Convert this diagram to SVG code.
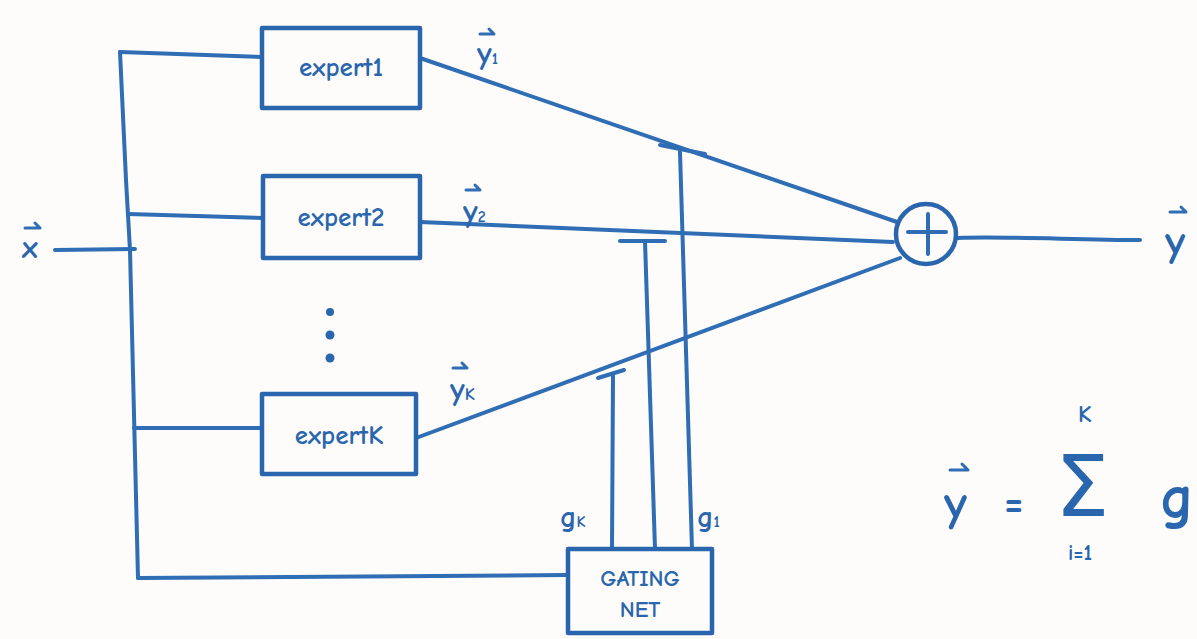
<svg xmlns="http://www.w3.org/2000/svg" width="1197" height="639" viewBox="0 0 1197 639">
<style>
.ln{fill:none;stroke:#2f6db5;stroke-width:4;stroke-linecap:round;stroke-linejoin:round}
.ar{fill:none;stroke:#2f6db5;stroke-width:3;stroke-linecap:round;stroke-linejoin:round}
.bx{fill:none;stroke:#2a66ad;stroke-width:4.5;stroke-linejoin:round}
.t{font-family:"Comic Neue","Liberation Sans",sans-serif;fill:#2a66ad;font-weight:bold}
.lbl{font-family:"Comic Neue","Liberation Sans",sans-serif;fill:#2a66ad;font-weight:bold}
.sig{font-family:"DejaVu Sans",sans-serif;fill:#2a66ad}
.dot{fill:#2a66ad}
</style>
<rect width="1197" height="639" fill="#fdfcfa"/>
<g id="connectors">
<path class="ln" d="M55,250 L135,249"/>
<path class="ln" d="M120,52 L126,180 L130,250 L138,578"/>
<path class="ln" d="M120,52 L262,57"/>
<path class="ln" d="M128,214 L263,218"/>
<path class="ln" d="M134,428 L262,428"/>
<path class="ln" d="M138,578 L568,575"/>
<path class="ln" d="M420,58 L897,222"/>
<path class="ln" d="M420,222 L893,242"/>
<path class="ln" d="M416,438 L900,258"/>
<path class="ln" d="M958,238 C1000,236 1080,240 1140,240"/>
<path class="ln" d="M692,549 L680,152"/>
<path class="ln" d="M660,145 L705,154" stroke-width="6"/>
<path class="ln" d="M655,549 L645,241"/>
<path class="ln" d="M620,241 L665,241" stroke-width="5"/>
<path class="ln" d="M612,549 L613,376"/>
<path class="ln" d="M598,378 L624,370" stroke-width="5"/>
</g>
<g id="input">
<text class="lbl" x="22" y="258" style="font-size:32px">x</text>
<path class="ar" d="M25,228 L40,228 L35,223"/>
</g>
<g id="expert1">
<rect class="bx" x="262" y="28" width="158" height="80"/>
<text class="t" x="341" y="76" style="font-size:27px" text-anchor="middle">expert1</text>
</g>
<g id="expert2">
<rect class="bx" x="263" y="176" width="157" height="82"/>
<text class="t" x="341" y="226" style="font-size:27px" text-anchor="middle">expert2</text>
</g>
<g id="dots">
<circle class="dot" cx="330" cy="312" r="4"/>
<circle class="dot" cx="330" cy="335" r="4.5"/>
<circle class="dot" cx="330" cy="358" r="4.5"/>
</g>
<g id="expertK">
<rect class="bx" x="262" y="394" width="154" height="80"/>
<text class="t" x="339" y="444" style="font-size:27px" text-anchor="middle">expertK</text>
</g>
<g id="gating">
<rect class="bx" x="568" y="549" width="144" height="84"/>
<text class="t" x="640" y="586" style="font-size:23px" text-anchor="middle">GATING</text>
<text class="t" x="640" y="617" style="font-size:23px" text-anchor="middle">NET</text>
</g>
<g id="sum">
<circle class="bx" cx="926" cy="234" r="30"/>
<path class="ln" d="M908,232 L946,232 M928,214 L928,254"/>
</g>
<g id="labels">
<text class="lbl" x="477" y="64" style="font-size:32px">y<tspan style="font-size:16px">1</tspan></text>
<path class="ar" d="M480,34 L494,34 L489,29"/>
<text class="lbl" x="463" y="222" style="font-size:32px">y<tspan style="font-size:16px">2</tspan></text>
<path class="ar" d="M466,190 L480,190 L475,185"/>
<text class="lbl" x="450" y="400" style="font-size:32px">y<tspan style="font-size:18px">K</tspan></text>
<path class="ar" d="M453,368 L467,368 L462,363"/>
<text class="lbl" x="560" y="527" style="font-size:30px">g<tspan style="font-size:16px">K</tspan></text>
<text class="lbl" x="697" y="527" style="font-size:30px">g<tspan style="font-size:16px">1</tspan></text>
<text class="lbl" x="1165" y="256" style="font-size:44px">y</text>
<path class="ar" d="M1170,212 L1186,212 L1181,207"/>
</g>
<g id="formula">
<text class="lbl" x="944" y="520" style="font-size:50px">y</text>
<path class="ar" d="M950,470 L968,470 L962,464"/>
<text class="lbl" x="1004" y="517" style="font-size:42px">=</text>
<text class="sig" x="1055" y="516" style="font-size:86px">Σ</text>
<text class="lbl" x="1078" y="422" style="font-size:24px">K</text>
<text class="lbl" x="1068" y="560" style="font-size:22px">i=1</text>
<text class="lbl" x="1160" y="518" style="font-size:62px">g</text>
</g>
</svg>
